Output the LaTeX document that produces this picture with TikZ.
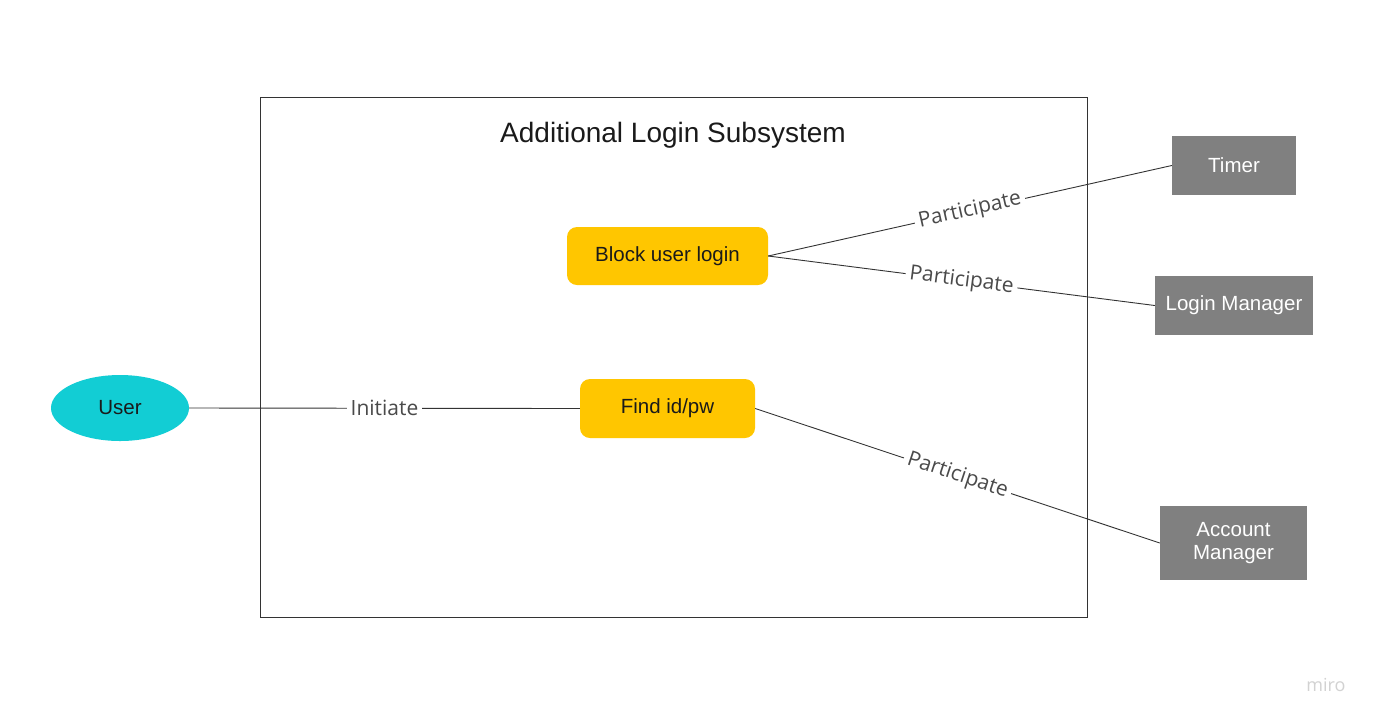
\documentclass[tikz,border=0pt]{standalone}
\usepackage{fontspec}
\setmainfont{Liberation Sans}
\newfontfamily\labelfont{Open Sans}
\usepackage{xcolor}
\usetikzlibrary{shapes.geometric}

\definecolor{ucyellow}{HTML}{FFC600}
\definecolor{actorcyan}{HTML}{12CDD4}
\definecolor{extgray}{HTML}{808080}
\definecolor{inktext}{HTML}{1A1A1A}
\definecolor{linkgray}{HTML}{333333}
\definecolor{lbltext}{HTML}{4A4A4A}

\begin{document}
\begin{tikzpicture}[
    x=1pt, y=-1pt,
    usecase/.style={fill=ucyellow, rounded corners=10pt, minimum height=58pt,
        inner sep=0pt, text=inktext, font=\fontsize{20.5}{24}\selectfont},
    actor/.style={ellipse, fill=actorcyan, minimum width=138pt, minimum height=66pt,
        inner sep=0pt, text=inktext, font=\fontsize{20.5}{24}\selectfont},
    ext/.style={fill=extgray, minimum height=59pt, inner sep=0pt, align=center,
        text=white, font=\fontsize{20.5}{23}\selectfont},
    link/.style={draw=linkgray, line width=0.9pt},
    lbl/.style={fill=white, inner sep=4pt, text=lbltext,
        font=\labelfont\fontsize{21}{24}\selectfont}
]
    \useasboundingbox[fill=white] (0,0) rectangle (1380,724);

    % system boundary
    \node[draw=linkgray, line width=1pt, minimum width=827pt, minimum height=520pt,
        inner sep=0pt] (system) at (673.5,357) {};
    \node[text=inktext, font=\fontsize{28}{32}\selectfont] (title) at (673,135)
        {Additional Login Subsystem};

    % use cases
    \node[usecase, minimum width=201pt] (block) at (667.5,256) {Block user login};
    \node[usecase, minimum width=175pt, minimum height=59pt] (find) at (667.5,408.5) {Find id/pw};

    % actors
    \node[actor] (user) at (120,408) {User};
    \node[ext, minimum width=124pt] (timer) at (1234,165.5) {Timer};
    \node[ext, minimum width=158pt] (loginmgr) at (1234,305.5) {Login Manager};
    \node[ext, minimum width=147pt, minimum height=74pt] (accountmgr) at (1233.5,543)
        {Account\\Manager};

    \draw[link] (user.east) -- node[lbl] {Initiate} (find.west);
    \draw[link] (block.east) -- node[lbl, sloped] {Participate} (timer.west);
    \draw[link] (block.east) -- node[lbl, sloped] {Participate} (loginmgr.west);
    \draw[link] (find.east) -- node[lbl, sloped] {Participate} (accountmgr.west);

    \node[text=gray!35, font=\labelfont\fontsize{18}{20}\selectfont] (miro) at (1326,685) {miro};
\end{tikzpicture}
\end{document}
